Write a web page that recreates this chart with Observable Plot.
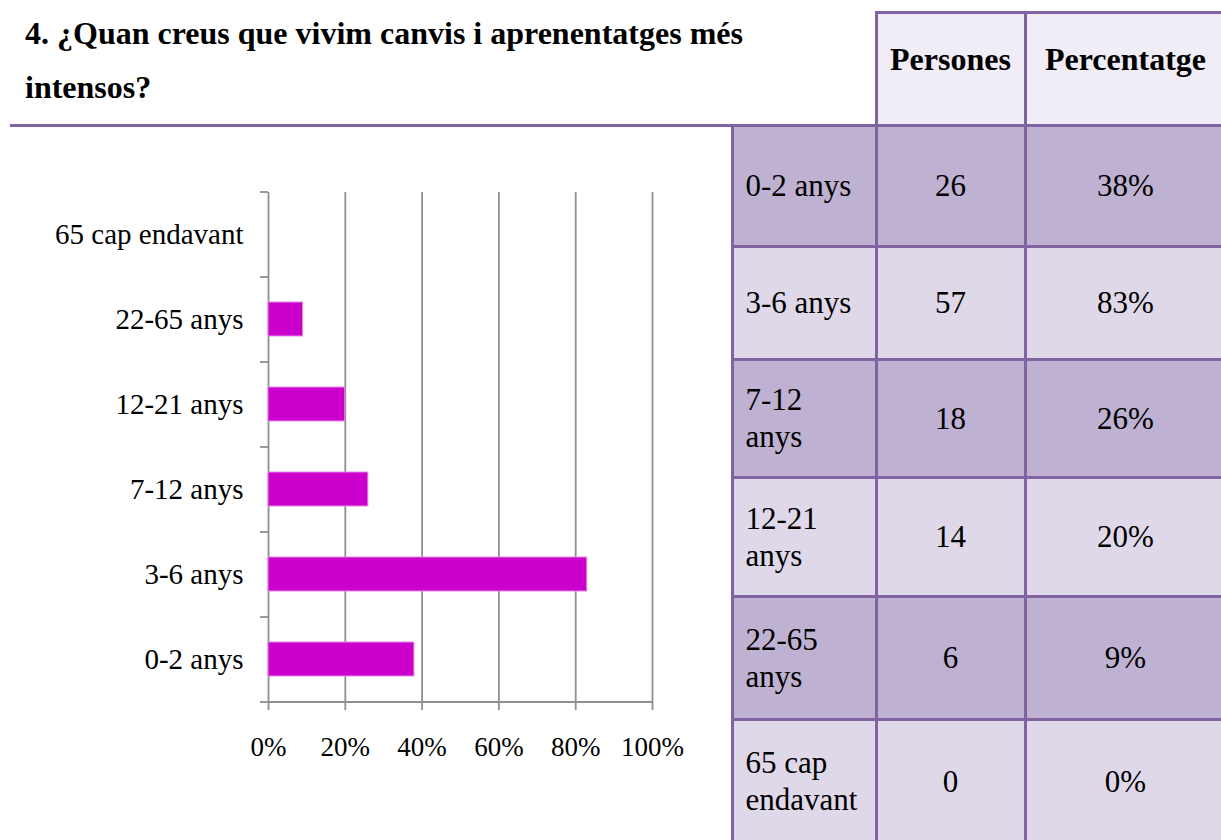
<!DOCTYPE html>
<html>
<head>
<meta charset="utf-8">
<script src="https://cdn.jsdelivr.net/npm/d3@7"></script>
<script src="https://cdn.jsdelivr.net/npm/@observablehq/plot@0.6"></script>
<style>
  html, body { margin: 0; padding: 0; background: #fff; }
  #page { position: relative; width: 1221px; height: 840px; overflow: hidden; color: #000; }
  #page, #page *, #page svg text { font-family: 'Liberation Serif', 'Times New Roman', Times, serif !important; }
  #chart { position: absolute; left: 0; top: 0; }
  #title { position: absolute; left: 25px; top: 6px; font-weight: bold; font-size: 32px; line-height: 54px; white-space: pre-line; }
  #rule { position: absolute; left: 10px; top: 124px; width: 1215px; height: 3px; background: #8064A2; }
  .cell { position: absolute; box-sizing: border-box; border: 3px solid #8064A2; display: flex; align-items: center; font-size: 31px; line-height: 37px; white-space: pre-line; }
  .hdr { font-weight: bold; font-size: 32px; line-height: 37px; justify-content: center; align-items: flex-start; padding-top: 27px; }
  .num { justify-content: center; }
  .lab { padding-left: 12px; }
</style>
</head>
<body>
<div id="page">
  <div id="chart"></div>
  <div id="title"></div>
  <div id="rule"></div>
  <div id="table"></div>
</div>
<script>
const titleText = "4. ¿Quan creus que vivim canvis i aprenentatges més\nintensos?";
const ages = ["0-2 anys", "3-6 anys", "7-12 anys", "12-21 anys", "22-65 anys", "65 cap endavant"];
const tableLabels = ["0-2 anys", "3-6 anys", "7-12\nanys", "12-21\nanys", "22-65\nanys", "65 cap\nendavant"];
const persons = [26, 57, 18, 14, 6, 0];
const percents = [0.38, 0.83, 0.26, 0.20, 0.09, 0];
const headers = ["Persones", "Percentatge"];
const xTicks = [0, 0.2, 0.4, 0.6, 0.8, 1];

document.getElementById("title").textContent = titleText;

const data = ages.map((a, i) => ({age: a, pct: percents[i], n: persons[i]}));
const yDomain = ages.slice().reverse();
const gray = "#8f8f8f";
const pctFmt = d3.format(".0%");
const serif = "'Liberation Serif', 'Times New Roman', serif";

const chart = Plot.plot({
  width: 700,
  height: 780,
  marginLeft: 268,
  marginRight: 48,
  marginTop: 192,
  marginBottom: 78,
  style: {fontFamily: serif, fontSize: "27px", background: "transparent", color: "#000", overflow: "visible"},
  x: {domain: [0, 1]},
  y: {domain: yDomain, paddingInner: 0.6, paddingOuter: 0.3},
  marks: [
    Plot.ruleX(xTicks, {x: d => d, stroke: gray, strokeWidth: 1.8, insetBottom: -8}),
    Plot.ruleY(yDomain, {y: d => d, dy: 42.5, stroke: gray, strokeWidth: 1.8, insetLeft: -8, insetRight: 384}),
    Plot.ruleY([yDomain[0]], {y: d => d, dy: -42.5, stroke: gray, strokeWidth: 1.8, insetLeft: -8, insetRight: 384}),
    Plot.ruleY([yDomain[yDomain.length - 1]], {y: d => d, dy: 42.5, stroke: gray, strokeWidth: 1.8}),
    Plot.barX(data, {filter: d => d.pct > 0, x: "pct", y: "age", fill: "#CC00CC", stroke: "#e58ae5", strokeWidth: 1}),
    Plot.axisY({tickSize: 0, tickPadding: 25, label: null, fontSize: 29, fontFamily: serif}),
    Plot.axisX({ticks: xTicks, tickFormat: pctFmt, tickSize: 0, tickPadding: 34, label: null, fontSize: 27, fontFamily: serif})
  ]
});
document.getElementById("chart").appendChild(chart);

// table
const colEdges = [732, 876, 1025, 1226];
const rowEdges = [125, 246, 359, 477, 596, 719, 843];
const hdrTop = 12;
const dark = "#BFB1D1", light = "#DFD8E9", hdrBg = "#F0EDF6";
const tbl = document.getElementById("table");
function cell(x0, x1, y0, y1, text, cls, bg) {
  const d = document.createElement("div");
  d.className = "cell " + cls;
  d.style.left = (x0 - 1.5) + "px";
  d.style.top = (y0 - 1.5) + "px";
  d.style.width = (x1 - x0 + 3) + "px";
  d.style.height = (y1 - y0 + 3) + "px";
  d.style.background = bg;
  d.textContent = text;
  tbl.appendChild(d);
}
headers.forEach((h, j) => cell(colEdges[j + 1], colEdges[j + 2], hdrTop, rowEdges[0], h, "hdr", hdrBg));
ages.forEach((a, i) => {
  const bg = i % 2 === 0 ? dark : light;
  const y0 = rowEdges[i], y1 = rowEdges[i + 1];
  cell(colEdges[0], colEdges[1], y0, y1, tableLabels[i], "lab", bg);
  cell(colEdges[1], colEdges[2], y0, y1, String(persons[i]), "num", bg);
  cell(colEdges[2], colEdges[3], y0, y1, pctFmt(percents[i]), "num", bg);
});
</script>
</body>
</html>
